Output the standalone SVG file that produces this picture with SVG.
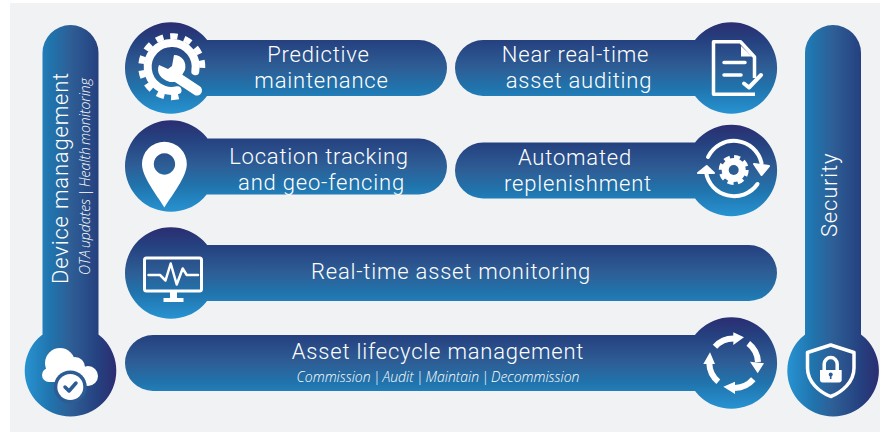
<svg xmlns="http://www.w3.org/2000/svg" width="887" height="432" viewBox="0 0 887 432">
<style>
.t{font-family:Roboto,"Noto Sans",sans-serif;font-weight:300;fill:#fff;font-size:22px;letter-spacing:.8px}
.s{font-family:"Open Sans","Noto Sans",sans-serif;font-weight:300;font-style:italic;fill:#fff;font-size:14px;word-spacing:-1.5px;letter-spacing:0}
.w{fill:#fff}
.l{fill:none;stroke:#fff;stroke-linecap:round;stroke-linejoin:round}
.b{fill:none;stroke:#fff}
.d{fill:#2c5c94}
</style>
<defs>
<linearGradient id="gv" x1="0" y1="0" x2="0" y2="1">
<stop offset="0" stop-color="#2b2d72"/><stop offset=".2" stop-color="#25417f"/><stop offset=".5" stop-color="#2e5e96"/><stop offset=".72" stop-color="#2074ad"/><stop offset="1" stop-color="#2793d2"/>
</linearGradient>
<linearGradient id="gh" x1="0" y1="0" x2="1" y2="0">
<stop offset="0" stop-color="#2793d2"/><stop offset=".28" stop-color="#2074ad"/><stop offset=".5" stop-color="#2e5e96"/><stop offset=".8" stop-color="#25417f"/><stop offset="1" stop-color="#2b2d72"/>
</linearGradient>
</defs>
<rect x="10" y="3" width="870" height="429" fill="#f1f2f4"/>

<g id="device-management">
<path fill="url(#gh)" d="M42.500,53a28,28 0 0 1 56,0V370H42.500Z M24.700,370.700a45.800,45.800 0 1 1 91.600,0a45.800,45.800 0 1 1 -91.600,0Z"/>
<text class="t" transform="translate(68,284) rotate(-90)" textLength="212" lengthAdjust="spacingAndGlyphs">Device management</text>
<text class="s" transform="translate(90,275) rotate(-90)" textLength="197" lengthAdjust="spacingAndGlyphs">OTA updates | Health monitoring</text>
<g class="w"><circle cx="60" cy="363" r="15"/><circle cx="75" cy="367" r="10"/><circle cx="88" cy="376" r="10"/><circle cx="49" cy="375" r="7"/><rect x="49" y="368" width="39" height="14"/><rect x="60" y="376" width="28" height="10" rx="3"/></g>
<circle cx="70.300" cy="387" r="16.500" class="d"/>
<circle cx="70.300" cy="387" r="13" class="w"/>
<path d="M65,387l4,4l7,-8" fill="none" stroke="#2c5c94" stroke-width="3.500" stroke-linecap="round" stroke-linejoin="round"/>
</g>

<g id="predictive-maintenance">
<path fill="url(#gv)" d="M153,40H419a28,28 0 0 1 0,56H153Z M125,68a45.800,45.800 0 1 1 91.600,0a45.800,45.800 0 1 1 -91.600,0Z"/>
<text class="t" x="318.500" y="62" text-anchor="middle">Predictive</text>
<text class="t" x="321.500" y="88" text-anchor="middle">maintenance</text>
<path class="l" stroke-width="8" d="M177.500,90.200A24,24 0 1 1 195.300,71.300"/>
<path class="b" stroke-width="6" stroke-dasharray="7.500 6.900" d="M178.500,96.400A30.500,30.500 0 1 1 201.700,72.500"/>
<path class="l" stroke-width="10" d="M172,74L197,90.500"/>
<path class="w" d="M159,65L168,69L172,66L174,55C182,55 187,62 185,70L178,82L170,82C160,79 156,72 159,65Z"/>
</g>

<g id="location-tracking">
<path fill="url(#gv)" d="M153,138.500H419a28,28 0 0 1 0,56H153Z M125,166a45.800,45.800 0 1 1 91.600,0a45.800,45.800 0 1 1 -91.600,0Z"/>
<text class="t" x="319" y="164" text-anchor="middle">Location tracking</text>
<text class="t" x="321.500" y="190" text-anchor="middle">and geo-fencing</text>
<path class="w" fill-rule="evenodd" d="M164.400,141.700a22.400,22.400 0 0 1 22.400,22.400C186.800,177 172,195 164.400,207.500C156.800,195 142,177 142,164.100A22.400,22.400 0 0 1 164.400,141.700Z M164.400,153.300a10.700,10.700 0 1 0 0.100,0Z"/>
</g>

<g id="near-real-time-asset-auditing">
<path fill="url(#gv)" d="M483,40H709V96H483a28,28 0 0 1 0,-56Z M685.500,68a45.800,45.800 0 1 1 91.600,0a45.800,45.800 0 1 1 -91.600,0Z"/>
<text class="t" x="575.500" y="62" text-anchor="middle">Near real-time</text>
<text class="t" x="579" y="88" text-anchor="middle">asset auditing</text>
<path class="b" stroke-width="3.500" stroke-linejoin="round" d="M754.500,78V57L740.500,41.700H713.500V94.300H755"/>
<path class="w" d="M741,46L752,56.500H741Z"/>
<path class="l" stroke-width="3.500" d="M724,62.500H745M724,75H741"/>
<path class="l" stroke-width="4" d="M744,83.500L749,87.500L761,75"/>
</g>

<g id="automated-replenishment">
<path fill="url(#gv)" d="M483,142.500H709V198.500H483a28,28 0 0 1 0,-56Z M685.500,170.500a45.800,45.800 0 1 1 91.600,0a45.800,45.800 0 1 1 -91.600,0Z"/>
<text class="t" x="575" y="165" text-anchor="middle">Automated</text>
<text class="t" x="578" y="191" text-anchor="middle">replenishment</text>
<path class="l" stroke-width="4" d="M708,157A28.500,28.500 0 0 1 761.500,163M757.500,184A28.500,28.500 0 0 1 706,172"/>
<path class="w" stroke="#fff" stroke-width="2" stroke-linejoin="round" d="M754,164L769,166L761.500,175ZM698,173L714,173L706.700,166Z"/>
<circle cx="733.700" cy="170" r="12" class="w"/>
<circle cx="733.700" cy="170" r="13" fill="none" stroke="#fff" stroke-width="4" stroke-dasharray="6 4.210"/>
<circle cx="733.700" cy="170" r="5" class="d"/>
</g>

<g id="real-time-asset-monitoring">
<path fill="url(#gv)" d="M153,245H749a28,28 0 0 1 0,56H153Z M125,273a45.800,45.800 0 1 1 91.600,0a45.800,45.800 0 1 1 -91.600,0Z"/>
<text class="t" x="451" y="279" text-anchor="middle">Real-time asset monitoring</text>
<rect x="144.500" y="258" width="57" height="33" rx="2" fill="none" stroke="#fff" stroke-width="3"/>
<path class="w" d="M170,292H177V298H183.500V302H163.500V298H170Z"/>
<path class="l" stroke-width="2.500" d="M148.500,275H160L165.500,280.500L170.700,263.500L176.700,284.500L182.700,268.500L186.700,275H198"/>
</g>

<g id="asset-lifecycle-management">
<path fill="url(#gv)" d="M153,335H709V391H153a28,28 0 0 1 0,-56Z M685.500,363a45.800,45.800 0 1 1 91.600,0a45.800,45.800 0 1 1 -91.600,0Z"/>
<text class="t" x="438" y="359" text-anchor="middle">Asset lifecycle management</text>
<text class="s" x="438" y="381.500" text-anchor="middle">Commission | Audit | Maintain | Decommission</text>
<g class="b" stroke-width="6">
<path d="M715,346.700A25,25 0 0 1 734,338.500"/>
<path d="M748.300,343.300A25,25 0 0 1 758,362"/>
<path d="M753.300,379.300A25,25 0 0 1 735,388"/>
<path d="M718.300,381.700A25,25 0 0 1 709.300,363"/>
</g>
<path class="w" d="M733.300,332.300L744,337.300L733.300,345ZM750,361.700L764,363.300L757.700,373.300ZM735,381.700L723.300,386.700L735,394ZM703.300,364L715,364L710,352.300Z"/>
</g>

<g id="security">
<path fill="url(#gh)" d="M805,53a28,28 0 0 1 56,0V370H805Z M787.300,370.700a45.800,45.800 0 1 1 91.600,0a45.800,45.800 0 1 1 -91.600,0Z"/>
<text class="t" transform="translate(837,237) rotate(-90)">Security</text>
<path fill="none" stroke="#fff" stroke-width="3.500" stroke-linejoin="round" d="M830.700,345L854,352.500V368C854,382 842,392 830.700,396.500C819.500,392 807.500,382 807.500,368V352.500Z"/>
<path class="w" d="M820,370H841.700V380C841.700,381.500 840.500,382.500 839,382.500H822.500C821,382.500 820,381.500 820,380Z"/>
<path class="l" stroke-width="3.500" d="M824.200,370V364A6.500,6.500 0 0 1 837.200,364V370"/>
<circle cx="830.700" cy="374.500" r="2" class="d"/>
<rect x="829.900" y="375" width="1.600" height="4" class="d"/>
</g>
</svg>
